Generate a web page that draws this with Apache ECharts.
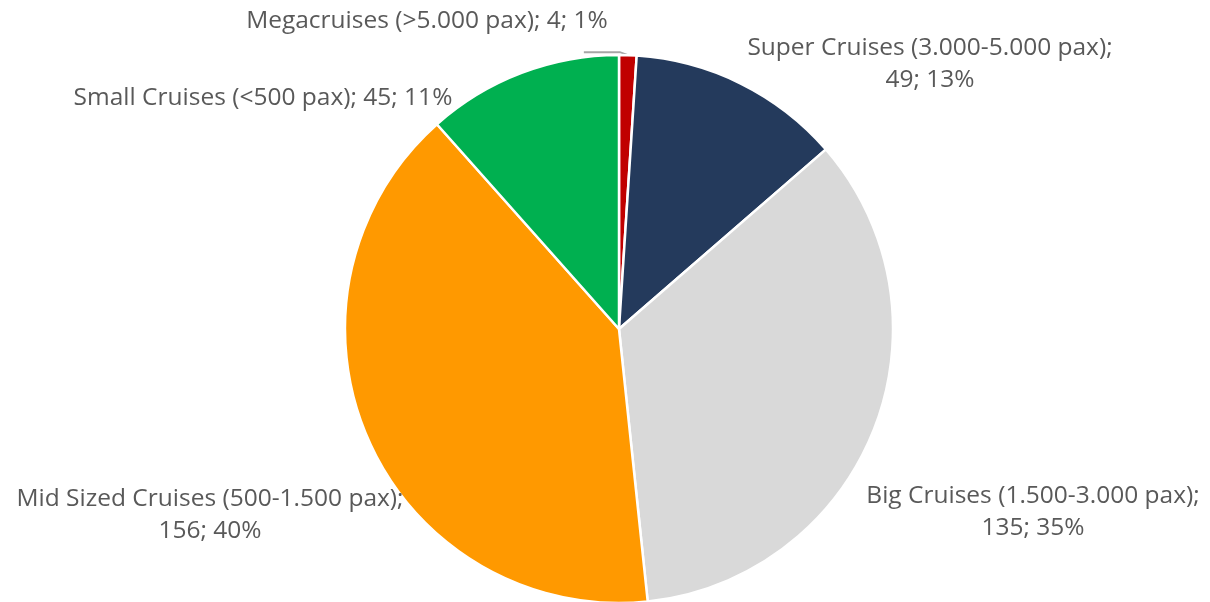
<!DOCTYPE html>
<html>
<head>
<meta charset="utf-8">
<title>Cruise ships by size</title>
<script src="https://cdn.jsdelivr.net/npm/echarts@6/dist/echarts.min.js"></script>
<style>
  html, body { margin: 0; padding: 0; background: #ffffff; }
  #chart { width: 1210px; height: 602px; }
</style>
</head>
<body>
<div id="chart"></div>
<script>
// Ship-size classes, in clockwise order from 12 o'clock
const categories = [
  'Megacruises (>5.000 pax)',
  'Super Cruises (3.000-5.000 pax)',
  'Big Cruises (1.500-3.000 pax)',
  'Mid Sized Cruises (500-1.500 pax)',
  'Small Cruises (<500 pax)'
];
const shipCounts = [4, 49, 135, 156, 45];
const percentLabels = ['1%', '13%', '35%', '40%', '11%'];
const wrapAfterName = [false, true, true, true, false];

const sliceColors = ['#C00000', '#243A5C', '#D9D9D9', '#FF9900', '#00B050'];

// Label centres (px)
const labelSpots = [
  { x: 427, y: 21 },
  { x: 930, y: 64 },
  { x: 1033, y: 512 },
  { x: 210, y: 515 },
  { x: 263, y: 98 }
];

const chart = echarts.init(document.getElementById('chart'), null, { renderer: 'canvas' });

const seriesData = categories.map((name, i) => ({
  name: name,
  value: shipCounts[i],
  itemStyle: { color: sliceColors[i] },
  labelLine: { show: i === 0 }
}));

chart.setOption({
  animation: false,
  backgroundColor: '#ffffff',
  series: [{
    type: 'pie',
    center: [619, 329],
    radius: 274,
    startAngle: 90,
    clockwise: true,
    avoidLabelOverlap: false,
    itemStyle: { borderColor: '#ffffff', borderWidth: 2.5 },
    label: {
      show: true,
      position: 'outside',
      fontFamily: '"Open Sans", "Noto Sans", sans-serif',
      fontSize: 24.5,
      lineHeight: 32,
      color: '#595959',
      align: 'center',
      formatter: (p) => {
        const i = p.dataIndex;
        const tail = shipCounts[i] + '; ' + percentLabels[i];
        return categories[i] + ';' + (wrapAfterName[i] ? '\n' : ' ') + tail;
      }
    },
    labelLine: {
      show: false,
      lineStyle: { color: '#A6A6A6', width: 2 }
    },
    labelLayout: (params) => {
      const spot = labelSpots[params.dataIndex];
      const out = {
        x: spot.x,
        y: spot.y,
        align: 'center',
        verticalAlign: 'middle'
      };
      if (params.dataIndex === 0 && params.labelLinePoints) {
        const edge = params.labelLinePoints[0];
        out.labelLinePoints = [
          [edge[0], edge[1]],
          [edge[0] - 8, edge[1] - 3],
          [edge[0] - 44, edge[1] - 3]
        ];
      }
      return out;
    },
    data: seriesData
  }]
});
</script>
</body>
</html>
